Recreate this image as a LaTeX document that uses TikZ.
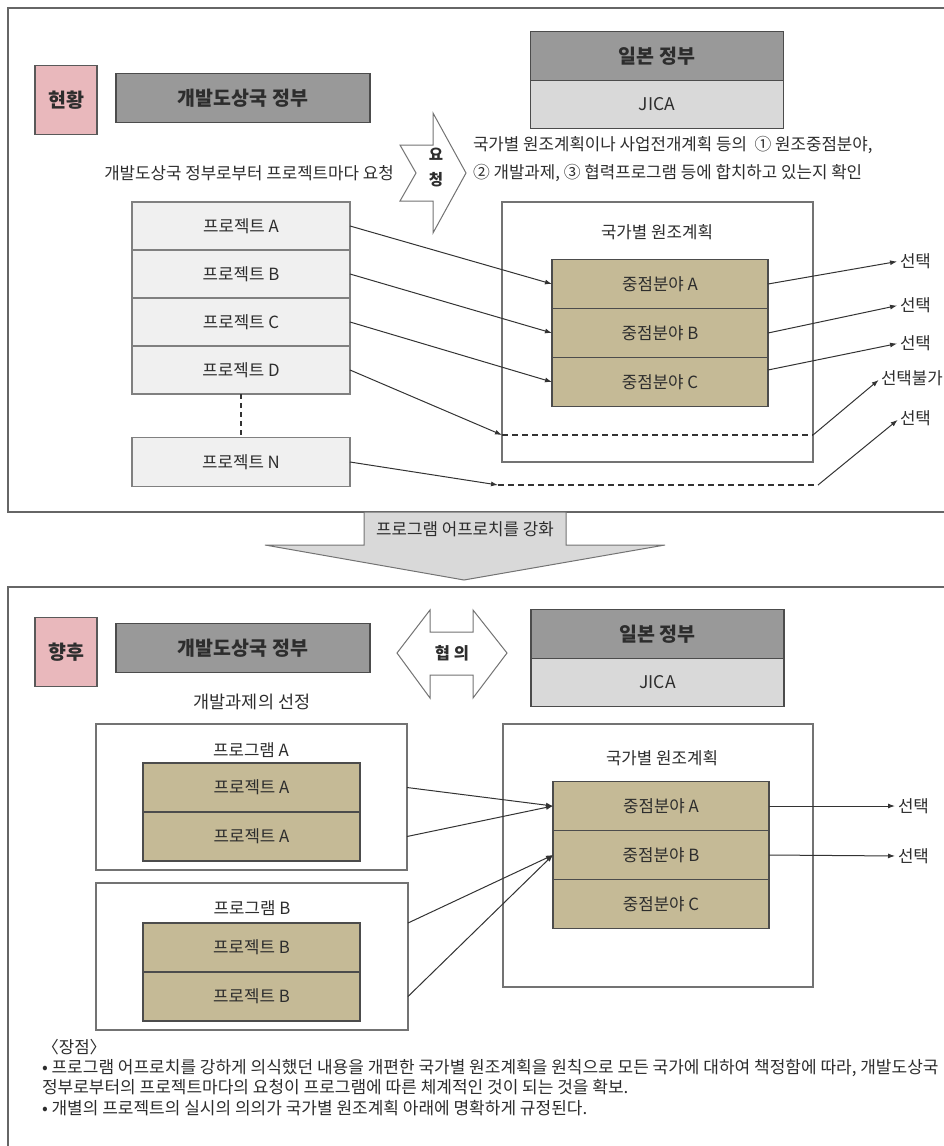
\documentclass[tikz,border=0pt]{standalone}
\usepackage{fontspec}
\setmainfont{Noto Sans CJK KR}
\usepackage{tikz}
\usetikzlibrary{arrows.meta,positioning}

\definecolor{pinkfill}{RGB}{233,184,188}
\definecolor{govgray}{RGB}{153,153,153}
\definecolor{jicagray}{RGB}{217,217,217}
\definecolor{projgray}{RGB}{240,240,240}
\definecolor{khaki}{RGB}{197,186,150}
\definecolor{txt}{RGB}{45,45,45}

\begin{document}
\begin{tikzpicture}[
    x=1pt, y=-1pt,
    every node/.style={inner sep=0pt, outer sep=0pt, text=txt},
    bodytxt/.style={font=\fontsize{16.8}{20}\selectfont},
    box/.style={
        draw=black!65,
        line width=1.3pt,
        align=center,
        bodytxt
    },
    tagbox/.style={box, fill=pinkfill, minimum width=62pt, minimum height=69pt,
        font=\bfseries\fontsize{19.5}{22}\selectfont},
    govbox/.style={box, fill=govgray, draw=black!70, minimum width=254pt, minimum height=49pt,
        font=\bfseries\fontsize{19.5}{22}\selectfont},
    jicabox/.style={govbox, fill=jicagray, minimum height=48pt, font=\fontsize{17.5}{20}\selectfont},
    projbox/.style={box, fill=projgray, draw=black!50, minimum width=218pt, minimum height=48pt},
    areabox/.style={box, fill=khaki, draw=black!70, minimum width=216pt, minimum height=49pt},
    frame/.style={box, fill=white, draw=black!55},
    panel/.style={draw=black!60, line width=1.5pt},
    blockarrow/.style={draw=black!55, line width=1pt, fill=white},
    arrow/.style={-{Latex[length=7pt,width=5pt]}, line width=1pt, draw=black!80},
    gapline/.style={dash pattern=on 6pt off 4pt, line width=2.2pt, draw=black!80}
]
\useasboundingbox (0,0) rectangle (944,1146);
\draw[panel] (8,8) rectangle (960,512);
\draw[panel] (8,587) rectangle (960,1160);

% current situation
\node[tagbox] (now) at (66,100) {현황};
\node[govbox] (dev1) at (243,98) {개발도상국 정부};
\node[bodytxt] (req) at (249,173) {개발도상국 정부로부터 프로젝트마다 요청};
\draw[blockarrow] (400,145) -- (433,145) -- (433,113) -- (466,173) -- (433,233) -- (433,201) -- (400,201) -- (416,173) -- cycle;
\node[font=\bfseries\fontsize{15.5}{25}\selectfont, align=center] (reqmark) at (436,168) {요\\청};
\node[govbox, minimum width=253pt] (jp1) at (657,56) {일본 정부};
\node[jicabox, minimum width=253pt, below=0pt of jp1] (jica1) {JICA};
\node[anchor=west, align=left, font=\fontsize{16.8}{28}\selectfont] (check) at (473,159)
    {국가별 원조계획이나 사업전개계획 등의 \ ① 원조중점분야,\\② 개발과제, ③ 협력프로그램 등에 합치하고 있는지 확인};

\node[projbox] (pA) at (241,226) {프로젝트 A};
\node[projbox, below=0pt of pA] (pB) {프로젝트 B};
\node[projbox, below=0pt of pB] (pC) {프로젝트 C};
\node[projbox, below=0pt of pC] (pD) {프로젝트 D};
\node[projbox, minimum height=49pt] (pN) at (241,462) {프로젝트 N};
\draw[dash pattern=on 5pt off 4pt, line width=1.3pt, draw=black!80] (pD) -- (pN);

\node[frame, minimum width=311pt, minimum height=260pt] (plan1) at (657.5,332) {};
\node[bodytxt] (plan1t) at (657,232) {국가별 원조계획};
\node[areabox] (fA) at (660,284) {중점분야 A};
\node[areabox, below=0pt of fA] (fB) {중점분야 B};
\node[areabox, below=0pt of fB] (fC) {중점분야 C};
\coordinate (gapD) at (502,435);
\coordinate (gapDe) at (813,435);
\coordinate (gapN) at (498,485);
\coordinate (gapNe) at (818,485);

\node[bodytxt, anchor=west] (s1) at (900,261) {선택};
\node[bodytxt, anchor=west] (s2) at (900,305) {선택};
\node[bodytxt, anchor=west] (s3) at (900,343) {선택};
\node[bodytxt, anchor=west] (s4) at (881,378) {선택불가};
\node[bodytxt, anchor=west] (s5) at (900,418) {선택};

\draw[arrow] (pA.east) -- (fA.west);
\draw[arrow] (pB.east) -- (fB.west);
\draw[arrow] (pC.east) -- (fC.west);
\draw[arrow] (pD.east) -- (gapD);
\draw[arrow] (pN.east) -- (gapN);
\draw[gapline] (gapD) -- (gapDe);
\draw[gapline] (gapN) -- (gapNe);
\draw[arrow, shorten >=3pt] (fA.east) -- (s1.west);
\draw[arrow, shorten >=3pt] (fB.east) -- (s2.west);
\draw[arrow, shorten >=3pt] ([yshift=12pt]fC.east) -- (s3.west);
\draw[arrow, shorten >=3pt] (gapDe) -- (s4.west);
\draw[arrow, shorten >=3pt] (gapNe) -- (s5.west);

% transition
\draw[blockarrow, fill=jicagray] (364,512) -- (566,512) -- (566,545) -- (665,545) -- (464,580) -- (265,545) -- (364,545) -- cycle;
\node[bodytxt] (shift) at (465,529) {프로그램 어프로치를 강화};

% future
\node[tagbox] (later) at (66,652) {향후};
\node[govbox] (dev2) at (243,648) {개발도상국 정부};
\node[font=\fontsize{17.5}{20}\selectfont] (pick) at (252,702) {개발과제의 선정};
\draw[blockarrow] (397,653) -- (430,610) -- (430,632) -- (473,632) -- (473,610) -- (507,653) -- (473,698) -- (473,675) -- (430,675) -- (430,698) -- cycle;
\node[font=\bfseries\fontsize{16.5}{20}\selectfont] (talk) at (452,653) {협 의};
\node[govbox, minimum width=253pt] (jp2) at (657.5,634) {일본 정부};
\node[jicabox, minimum width=253pt, below=0pt of jp2] (jica2) {JICA};

\node[frame, minimum width=310pt, minimum height=263pt] (plan2) at (658,855.5) {};
\node[bodytxt] (plan2t) at (662,758) {국가별 원조계획};
\node[areabox] (gA) at (661,806) {중점분야 A};
\node[areabox, below=0pt of gA] (gB) {중점분야 B};
\node[areabox, below=0pt of gB] (gC) {중점분야 C};

\node[frame, minimum width=311pt, minimum height=146pt] (progA) at (251.5,797) {};
\node[bodytxt] (progAt) at (251,750) {프로그램 A};
\node[areabox, minimum width=217pt] (qA1) at (251.5,787.5) {프로젝트 A};
\node[areabox, minimum width=217pt, below=0pt of qA1] (qA2) {프로젝트 A};
\node[frame, minimum width=312pt, minimum height=147pt] (progB) at (252,956.5) {};
\node[bodytxt] (progBt) at (252,908) {프로그램 B};
\node[areabox, minimum width=217pt] (qB1) at (251.5,947.5) {프로젝트 B};
\node[areabox, minimum width=217pt, below=0pt of qB1] (qB2) {프로젝트 B};

\node[bodytxt, anchor=west] (t1) at (898,806) {선택};
\node[bodytxt, anchor=west] (t2) at (898,856) {선택};

\draw[arrow] (progA.east |- qA1.east) -- (gA.west);
\draw[arrow] (progA.east |- qA2.east) -- (gA.west);
\draw[arrow] (progB.east |- qB1.north) -- (gB.west);
\draw[arrow] (progB.east |- qB2.east) -- (gB.west);
\draw[arrow, shorten >=3pt] (gA.east) -- (t1.west);
\draw[arrow, shorten >=3pt] (gB.east) -- (t2.west);

\node[anchor=west, bodytxt] (merit) at (42,1047) {〈장점〉};
\node[anchor=north west, align=left, font=\fontsize{17}{20.5}\selectfont] (merittext) at (42,1059)
    {• 프로그램 어프로치를 강하게 의식했던 내용을 개편한 국가별 원조계획을 원칙으로 모든 국가에 대하여 책정함에 따라, 개발도상국\\
     정부로부터의 프로젝트마다의 요청이 프로그램에 따른 체계적인 것이 되는 것을 확보.\\
     • 개별의 프로젝트의 실시의 의의가 국가별 원조계획 아래에 명확하게 규정된다.};
\end{tikzpicture}
\end{document}
